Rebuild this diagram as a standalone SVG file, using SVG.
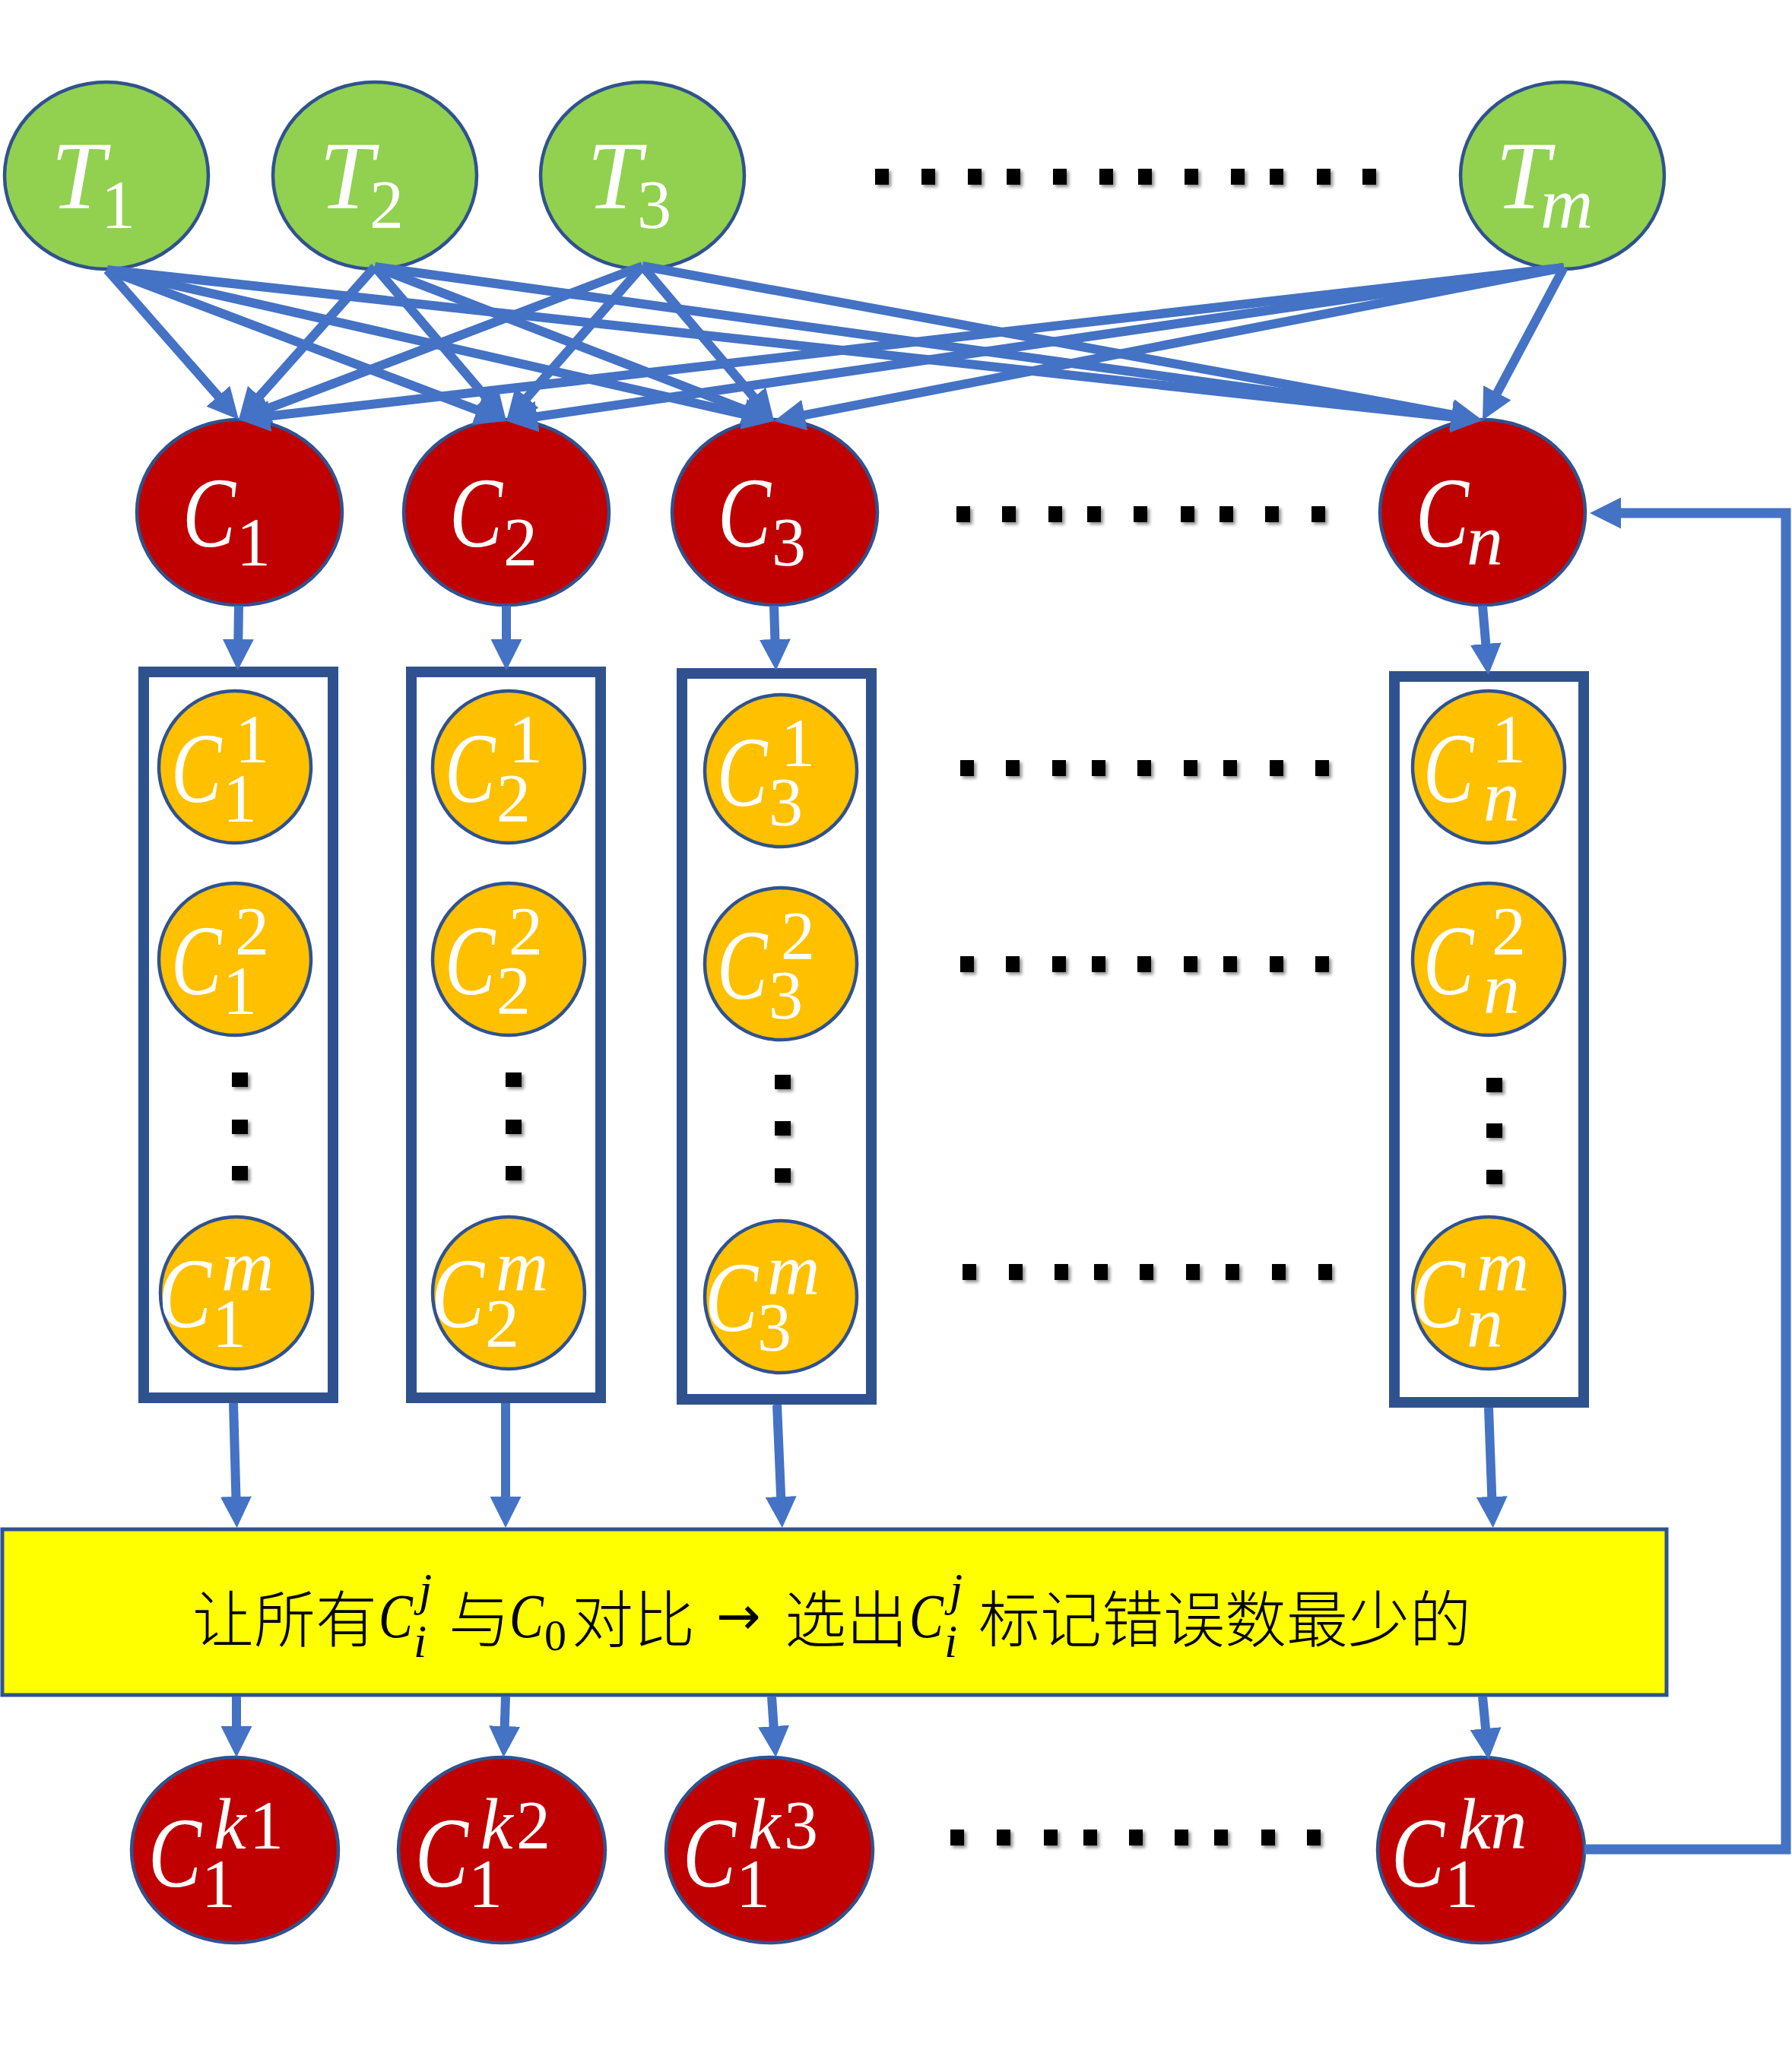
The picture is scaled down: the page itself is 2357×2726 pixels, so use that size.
<svg xmlns="http://www.w3.org/2000/svg" width="2357" height="2726" viewBox="0 0 2357 2726">
<style>
.bg{fill:#fff}
.tn{fill:#92D050;stroke:#2F528F;stroke-width:4.5}
.cn{fill:#C00000;stroke:#2F528F;stroke-width:4.5}
.on{fill:#FFC000;stroke:#2F528F;stroke-width:4.5}
.box{fill:#fff;stroke:#2F528F;stroke-width:14}
.bar{fill:#FFFF00;stroke:#2F528F;stroke-width:5}
.e{fill:none;stroke:#4472C4;stroke-width:12;marker-end:url(#ah)}
.fb{fill:none;stroke:#4472C4;stroke-width:13;marker-end:url(#ah)}
.lbl{font-family:"Liberation Serif","DejaVu Serif",serif;fill:#fff}
.it{font-style:italic;font-size:128px}
.C{font-family:"Liberation Serif","DejaVu Serif",serif;fill:#fff;font-style:italic;font-size:131px}
.si{font-style:italic;font-size:96px}
.sd{font-style:normal;font-size:90px}
.dot{fill:#000;filter:url(#sh)}
.zh{font-family:"Noto Sans CJK SC",sans-serif;font-weight:300;font-size:81px;fill:#000}
.zm{font-family:"Liberation Serif",serif;fill:#000}
.zc{font-family:"Liberation Serif",serif;fill:#000;font-style:italic;font-size:82px}
</style>
<defs>
<marker id="ah" markerUnits="userSpaceOnUse" markerWidth="41" markerHeight="41" refX="21" refY="20.5" orient="auto"><path d="M0,0 L41,20.5 L0,41 z" fill="#4472C4"/></marker>
<filter id="sh" x="-60%" y="-60%" width="260%" height="260%"><feDropShadow dx="3" dy="3" stdDeviation="2" flood-color="#000" flood-opacity="0.45"/></filter>
</defs>
<rect class="bg" x="0" y="0" width="2357" height="2726"/>

<g id="T1"><ellipse class="tn" cx="140" cy="231" rx="134" ry="123"/><text class="lbl"><tspan class="it" x="67" y="274">T</tspan><tspan class="sd" x="133" y="300">1</tspan></text></g>
<g id="T2"><ellipse class="tn" cx="493" cy="231" rx="134" ry="123"/><text class="lbl"><tspan class="it" x="420" y="274">T</tspan><tspan class="sd" x="486" y="300">2</tspan></text></g>
<g id="T3"><ellipse class="tn" cx="845" cy="231" rx="134" ry="123"/><text class="lbl"><tspan class="it" x="772" y="274">T</tspan><tspan class="sd" x="838" y="300">3</tspan></text></g>
<g id="Tm"><ellipse class="tn" cx="2055" cy="231" rx="134" ry="123"/><text class="lbl"><tspan class="it" x="1967" y="274">T</tspan><tspan class="si" x="2026" y="300">m</tspan></text></g>

<g id="C1"><ellipse class="cn" cx="315" cy="674" rx="135" ry="122"/><text class="C" transform="translate(240,719) scale(0.8,1)">C</text><text class="lbl sd" x="311" y="744">1</text></g>
<g id="C2"><ellipse class="cn" cx="666" cy="674" rx="135" ry="122"/><text class="C" transform="translate(591,719) scale(0.8,1)">C</text><text class="lbl sd" x="662" y="744">2</text></g>
<g id="C3"><ellipse class="cn" cx="1019" cy="674" rx="135" ry="122"/><text class="C" transform="translate(944,719) scale(0.8,1)">C</text><text class="lbl sd" x="1015" y="744">3</text></g>
<g id="Cn"><ellipse class="cn" cx="1950" cy="674" rx="135" ry="122"/><text class="C" transform="translate(1862,719) scale(0.8,1)">C</text><text class="lbl si" x="1929" y="743">n</text></g>

<g id="box1"><rect class="box" x="189" y="884" width="249" height="955"/>
<circle class="on" cx="309" cy="1009" r="100"/><text class="C" transform="translate(225,1055) scale(0.76,1)">C</text><text class="lbl"><tspan class="sd" x="309" y="1003">1</tspan><tspan class="sd" x="293" y="1081">1</tspan></text>
<circle class="on" cx="309" cy="1262" r="100"/><text class="C" transform="translate(225,1308) scale(0.76,1)">C</text><text class="lbl"><tspan class="sd" x="309" y="1256">2</tspan><tspan class="sd" x="293" y="1334">1</tspan></text>
<rect class="dot" x="305" y="1411" width="21" height="19"/><rect class="dot" x="305" y="1473" width="21" height="19"/><rect class="dot" x="305" y="1534" width="21" height="19"/>
<circle class="on" cx="311" cy="1701" r="100"/><text class="C" transform="translate(208,1746) scale(0.8,1)">C</text><text class="lbl"><tspan class="si" x="291" y="1698">m</tspan><tspan class="sd" x="279" y="1772">1</tspan></text>
</g>
<g id="box2"><rect class="box" x="541" y="884" width="249" height="955"/>
<circle class="on" cx="669" cy="1009" r="100"/><text class="C" transform="translate(585,1055) scale(0.76,1)">C</text><text class="lbl"><tspan class="sd" x="669" y="1003">1</tspan><tspan class="sd" x="653" y="1081">2</tspan></text>
<circle class="on" cx="669" cy="1262" r="100"/><text class="C" transform="translate(585,1308) scale(0.76,1)">C</text><text class="lbl"><tspan class="sd" x="669" y="1256">2</tspan><tspan class="sd" x="653" y="1334">2</tspan></text>
<rect class="dot" x="665" y="1411" width="21" height="19"/><rect class="dot" x="665" y="1473" width="21" height="19"/><rect class="dot" x="665" y="1534" width="21" height="19"/>
<circle class="on" cx="669" cy="1701" r="100"/><text class="C" transform="translate(567,1746) scale(0.8,1)">C</text><text class="lbl"><tspan class="si" x="652" y="1698">m</tspan><tspan class="sd" x="638" y="1772">2</tspan></text>
</g>
<g id="box3"><rect class="box" x="897" y="886" width="249" height="955"/>
<circle class="on" cx="1027" cy="1014" r="100"/><text class="C" transform="translate(943,1060) scale(0.76,1)">C</text><text class="lbl"><tspan class="sd" x="1027" y="1008">1</tspan><tspan class="sd" x="1011" y="1086">3</tspan></text>
<circle class="on" cx="1027" cy="1268" r="100"/><text class="C" transform="translate(943,1314) scale(0.76,1)">C</text><text class="lbl"><tspan class="sd" x="1027" y="1262">2</tspan><tspan class="sd" x="1011" y="1340">3</tspan></text>
<rect class="dot" x="1019" y="1414" width="21" height="19"/><rect class="dot" x="1019" y="1475" width="21" height="19"/><rect class="dot" x="1019" y="1537" width="21" height="19"/>
<circle class="on" cx="1027" cy="1706" r="100"/><text class="C" transform="translate(927,1751) scale(0.8,1)">C</text><text class="lbl"><tspan class="si" x="1009" y="1703">m</tspan><tspan class="sd" x="996" y="1777">3</tspan></text>
</g>
<g id="boxn"><rect class="box" x="1834" y="890" width="249" height="955"/>
<circle class="on" cx="1958" cy="1009" r="100"/><text class="C" transform="translate(1872,1055) scale(0.76,1)">C</text><text class="lbl"><tspan class="sd" x="1962" y="1003">1</tspan><tspan class="si" x="1951" y="1080">n</tspan></text>
<circle class="on" cx="1958" cy="1262" r="100"/><text class="C" transform="translate(1872,1308) scale(0.76,1)">C</text><text class="lbl"><tspan class="sd" x="1962" y="1256">2</tspan><tspan class="si" x="1951" y="1333">n</tspan></text>
<rect class="dot" x="1955" y="1418" width="21" height="19"/><rect class="dot" x="1955" y="1478" width="21" height="19"/><rect class="dot" x="1955" y="1539" width="21" height="19"/>
<circle class="on" cx="1958" cy="1701" r="100"/><text class="C" transform="translate(1857,1746) scale(0.8,1)">C</text><text class="lbl"><tspan class="si" x="1942" y="1698">m</tspan><tspan class="si" x="1929" y="1772">n</tspan></text>
</g>

<g id="bar"><rect class="bar" x="3" y="2012" width="2189" height="218"/>
<text class="zh" x="253" y="2160">让所有</text>
<text class="zc" transform="translate(498,2154) scale(0.82,1)">C</text>
<text class="zm" font-style="italic" font-size="62"><tspan x="551" y="2112">j</tspan><tspan x="544" y="2180">i</tspan></text>
<text class="zh" x="590" y="2160">与</text>
<text class="zc" transform="translate(670,2154) scale(0.82,1)">C</text>
<text class="zm" x="716" y="2171" font-size="58">0</text>
<text class="zh" x="752" y="2160">对比</text>
<text x="942" y="2150" font-family="DejaVu Sans,sans-serif" font-size="70" fill="#000">→</text>
<text class="zh" x="1032" y="2160">选出</text>
<text class="zc" transform="translate(1196,2154) scale(0.82,1)">C</text>
<text class="zm" font-style="italic" font-size="62"><tspan x="1249" y="2112">j</tspan><tspan x="1242" y="2180">i</tspan></text>
<text class="zh" x="1287" y="2160">标记错误数最少的</text>
</g>

<g id="B1"><ellipse class="cn" cx="309" cy="2434" rx="136" ry="122"/><text class="C" transform="translate(195,2482) scale(0.8,1)">C</text><text class="lbl"><tspan class="si" x="281" y="2432">k</tspan><tspan class="sd" x="328" y="2432">1</tspan><tspan class="sd" x="265" y="2509">1</tspan></text></g>
<g id="B2"><ellipse class="cn" cx="660" cy="2434" rx="136" ry="122"/><text class="C" transform="translate(546,2482) scale(0.8,1)">C</text><text class="lbl"><tspan class="si" x="632" y="2432">k</tspan><tspan class="sd" x="679" y="2432">2</tspan><tspan class="sd" x="616" y="2509">1</tspan></text></g>
<g id="B3"><ellipse class="cn" cx="1012" cy="2434" rx="136" ry="122"/><text class="C" transform="translate(898,2482) scale(0.8,1)">C</text><text class="lbl"><tspan class="si" x="984" y="2432">k</tspan><tspan class="sd" x="1031" y="2432">3</tspan><tspan class="sd" x="968" y="2509">1</tspan></text></g>
<g id="Bn"><ellipse class="cn" cx="1948" cy="2434" rx="136" ry="122"/><text class="C" transform="translate(1830,2482) scale(0.8,1)">C</text><text class="lbl"><tspan class="si" x="1918" y="2432">kn</tspan><tspan class="sd" x="1900" y="2509">1</tspan></text></g>

<g id="dots">
<rect class="dot" x="1151" y="222" width="18" height="21"/><rect class="dot" x="1212" y="222" width="18" height="21"/><rect class="dot" x="1273" y="222" width="18" height="21"/><rect class="dot" x="1324" y="222" width="18" height="21"/><rect class="dot" x="1385" y="222" width="18" height="21"/><rect class="dot" x="1446" y="222" width="18" height="21"/><rect class="dot" x="1497" y="222" width="18" height="21"/><rect class="dot" x="1558" y="222" width="18" height="21"/><rect class="dot" x="1619" y="222" width="18" height="21"/><rect class="dot" x="1670" y="222" width="18" height="21"/><rect class="dot" x="1732" y="222" width="18" height="21"/><rect class="dot" x="1792" y="222" width="18" height="21"/>
<rect class="dot" x="1258" y="666" width="18" height="21"/><rect class="dot" x="1318" y="666" width="18" height="21"/><rect class="dot" x="1379" y="666" width="18" height="21"/><rect class="dot" x="1430" y="666" width="18" height="21"/><rect class="dot" x="1491" y="666" width="18" height="21"/><rect class="dot" x="1553" y="666" width="18" height="21"/><rect class="dot" x="1604" y="666" width="18" height="21"/><rect class="dot" x="1664" y="666" width="18" height="21"/><rect class="dot" x="1725" y="666" width="18" height="21"/>
<rect class="dot" x="1263" y="1000" width="18" height="21"/><rect class="dot" x="1323" y="1000" width="18" height="21"/><rect class="dot" x="1384" y="1000" width="18" height="21"/><rect class="dot" x="1436" y="1000" width="18" height="21"/><rect class="dot" x="1496" y="1000" width="18" height="21"/><rect class="dot" x="1557" y="1000" width="18" height="21"/><rect class="dot" x="1609" y="1000" width="18" height="21"/><rect class="dot" x="1670" y="1000" width="18" height="21"/><rect class="dot" x="1730" y="1000" width="18" height="21"/>
<rect class="dot" x="1263" y="1258" width="18" height="21"/><rect class="dot" x="1323" y="1258" width="18" height="21"/><rect class="dot" x="1384" y="1258" width="18" height="21"/><rect class="dot" x="1436" y="1258" width="18" height="21"/><rect class="dot" x="1496" y="1258" width="18" height="21"/><rect class="dot" x="1557" y="1258" width="18" height="21"/><rect class="dot" x="1609" y="1258" width="18" height="21"/><rect class="dot" x="1670" y="1258" width="18" height="21"/><rect class="dot" x="1730" y="1258" width="18" height="21"/>
<rect class="dot" x="1266" y="1663" width="18" height="21"/><rect class="dot" x="1327" y="1663" width="18" height="21"/><rect class="dot" x="1387" y="1663" width="18" height="21"/><rect class="dot" x="1439" y="1663" width="18" height="21"/><rect class="dot" x="1499" y="1663" width="18" height="21"/><rect class="dot" x="1560" y="1663" width="18" height="21"/><rect class="dot" x="1612" y="1663" width="18" height="21"/><rect class="dot" x="1673" y="1663" width="18" height="21"/><rect class="dot" x="1734" y="1663" width="18" height="21"/>
<rect class="dot" x="1250" y="2407" width="18" height="21"/><rect class="dot" x="1311" y="2407" width="18" height="21"/><rect class="dot" x="1373" y="2407" width="18" height="21"/><rect class="dot" x="1425" y="2407" width="18" height="21"/><rect class="dot" x="1485" y="2407" width="18" height="21"/><rect class="dot" x="1545" y="2407" width="18" height="21"/><rect class="dot" x="1597" y="2407" width="18" height="21"/><rect class="dot" x="1659" y="2407" width="18" height="21"/><rect class="dot" x="1719" y="2407" width="18" height="21"/>
</g>

<g id="connectors">
<line class="e" x1="141" y1="355" x2="300.8" y2="537"/>
<line class="e" x1="141" y1="355" x2="647.3" y2="546.9"/>
<line class="e" x1="141" y1="355" x2="998.5" y2="549.6"/>
<line class="e" x1="141" y1="355" x2="1930.1" y2="550.8"/>
<line class="e" x1="493" y1="351" x2="327.3" y2="537.1"/>
<line class="e" x1="493" y1="351" x2="653" y2="538.8"/>
<line class="e" x1="493" y1="351" x2="999.3" y2="546.8"/>
<line class="e" x1="493" y1="351" x2="1930.2" y2="550.3"/>
<line class="e" x1="845" y1="350" x2="332.7" y2="544.9"/>
<line class="e" x1="845" y1="350" x2="679.2" y2="539"/>
<line class="e" x1="845" y1="350" x2="1005.1" y2="538.7"/>
<line class="e" x1="845" y1="350" x2="1930.3" y2="549.4"/>
<line class="e" x1="2057" y1="352" x2="333.9" y2="549.7"/>
<line class="e" x1="2057" y1="352" x2="685.8" y2="551.1"/>
<line class="e" x1="2057" y1="352" x2="1037.6" y2="550.2"/>
<line class="e" x1="2057" y1="352" x2="1959.4" y2="535.3"/>
<line class="e" x1="314" y1="797" x2="313" y2="862"/>
<line class="e" x1="666" y1="797" x2="666" y2="862"/>
<line class="e" x1="1018" y1="797" x2="1020" y2="862"/>
<line class="e" x1="1950" y1="797" x2="1956" y2="868"/>
<line class="e" x1="307" y1="1846" x2="311" y2="1990"/>
<line class="e" x1="665" y1="1846" x2="665" y2="1990"/>
<line class="e" x1="1022" y1="1848" x2="1028" y2="1990"/>
<line class="e" x1="1958" y1="1852" x2="1963" y2="1990"/>
<line class="e" x1="311" y1="2232" x2="311" y2="2292"/>
<line class="e" x1="665" y1="2232" x2="663" y2="2292"/>
<line class="e" x1="1015" y1="2232" x2="1019" y2="2292"/>
<line class="e" x1="1950" y1="2232" x2="1956" y2="2295"/>
<path class="fb" d="M2084,2433 H2349 V675 H2111"/>
</g>
</svg>
